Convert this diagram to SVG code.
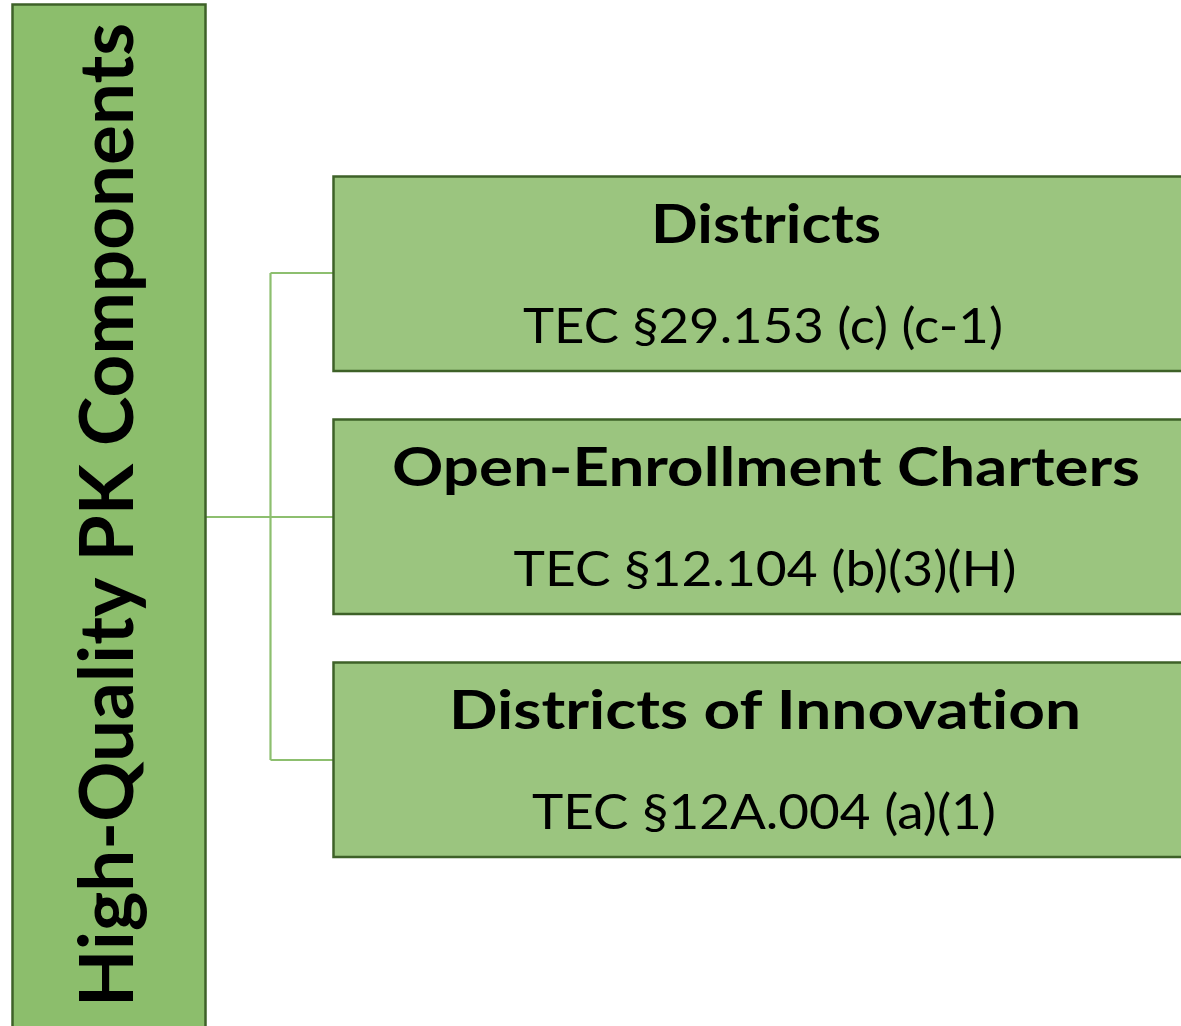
<svg xmlns="http://www.w3.org/2000/svg" width="1181" height="1026" viewBox="0 0 1181 1026">
<style>
text{font-variant-ligatures:none;font-feature-settings:"liga" 0,"clig" 0}
.box{stroke:#3E6128;stroke-width:2.5}
.left{fill:#8CBE6C}
.right{fill:#9BC57F}
.title{font-family:Lato,"Open Sans","Liberation Sans",sans-serif;font-weight:bold;font-size:54px;fill:#000;text-anchor:middle}
.sub{font-family:Lato,"Open Sans","Liberation Sans",sans-serif;font-size:49px;fill:#000;text-anchor:middle}
.vt{font-family:Lato,"Open Sans","Liberation Sans",sans-serif;font-weight:bold;font-size:75px;fill:#000;text-anchor:middle}
.conn{fill:none;stroke:#8DBF6F;stroke-width:2.2}
</style>
<rect width="1181" height="1026" fill="#fff"/>
<g id="connectors">
<path class="conn" d="M206 517 H333"/>
<path class="conn" d="M270.5 273 V760"/>
<path class="conn" d="M270.5 273 H333"/>
<path class="conn" d="M270.5 760 H333"/>
</g>
<g id="node-root">
<rect class="box left" x="12.5" y="4.5" width="193" height="1040"/>
<text class="vt" transform="translate(133,515) rotate(-90)" textLength="984" lengthAdjust="spacingAndGlyphs">High-Quality PK Components</text>
</g>
<g id="node-districts">
<rect class="box right" x="333.5" y="176.5" width="870" height="194.5"/>
<text class="title" x="766" y="243" textLength="230" lengthAdjust="spacingAndGlyphs">Districts</text>
<text class="sub" x="763" y="343" textLength="480" lengthAdjust="spacingAndGlyphs">TEC §29.153 (c) (c-1)</text>
</g>
<g id="node-charters">
<rect class="box right" x="333.5" y="419.5" width="870" height="194.5"/>
<text class="title" x="766" y="486" textLength="748" lengthAdjust="spacingAndGlyphs">Open-Enrollment Charters</text>
<text class="sub" x="765" y="586" textLength="503" lengthAdjust="spacingAndGlyphs">TEC §12.104 (b)(3)(H)</text>
</g>
<g id="node-doi">
<rect class="box right" x="333.5" y="662.5" width="870" height="194.5"/>
<text class="title" x="765" y="729" textLength="632" lengthAdjust="spacingAndGlyphs">Districts of Innovation</text>
<text class="sub" x="764" y="829" textLength="464" lengthAdjust="spacingAndGlyphs">TEC §12A.004 (a)(1)</text>
</g>
</svg>
